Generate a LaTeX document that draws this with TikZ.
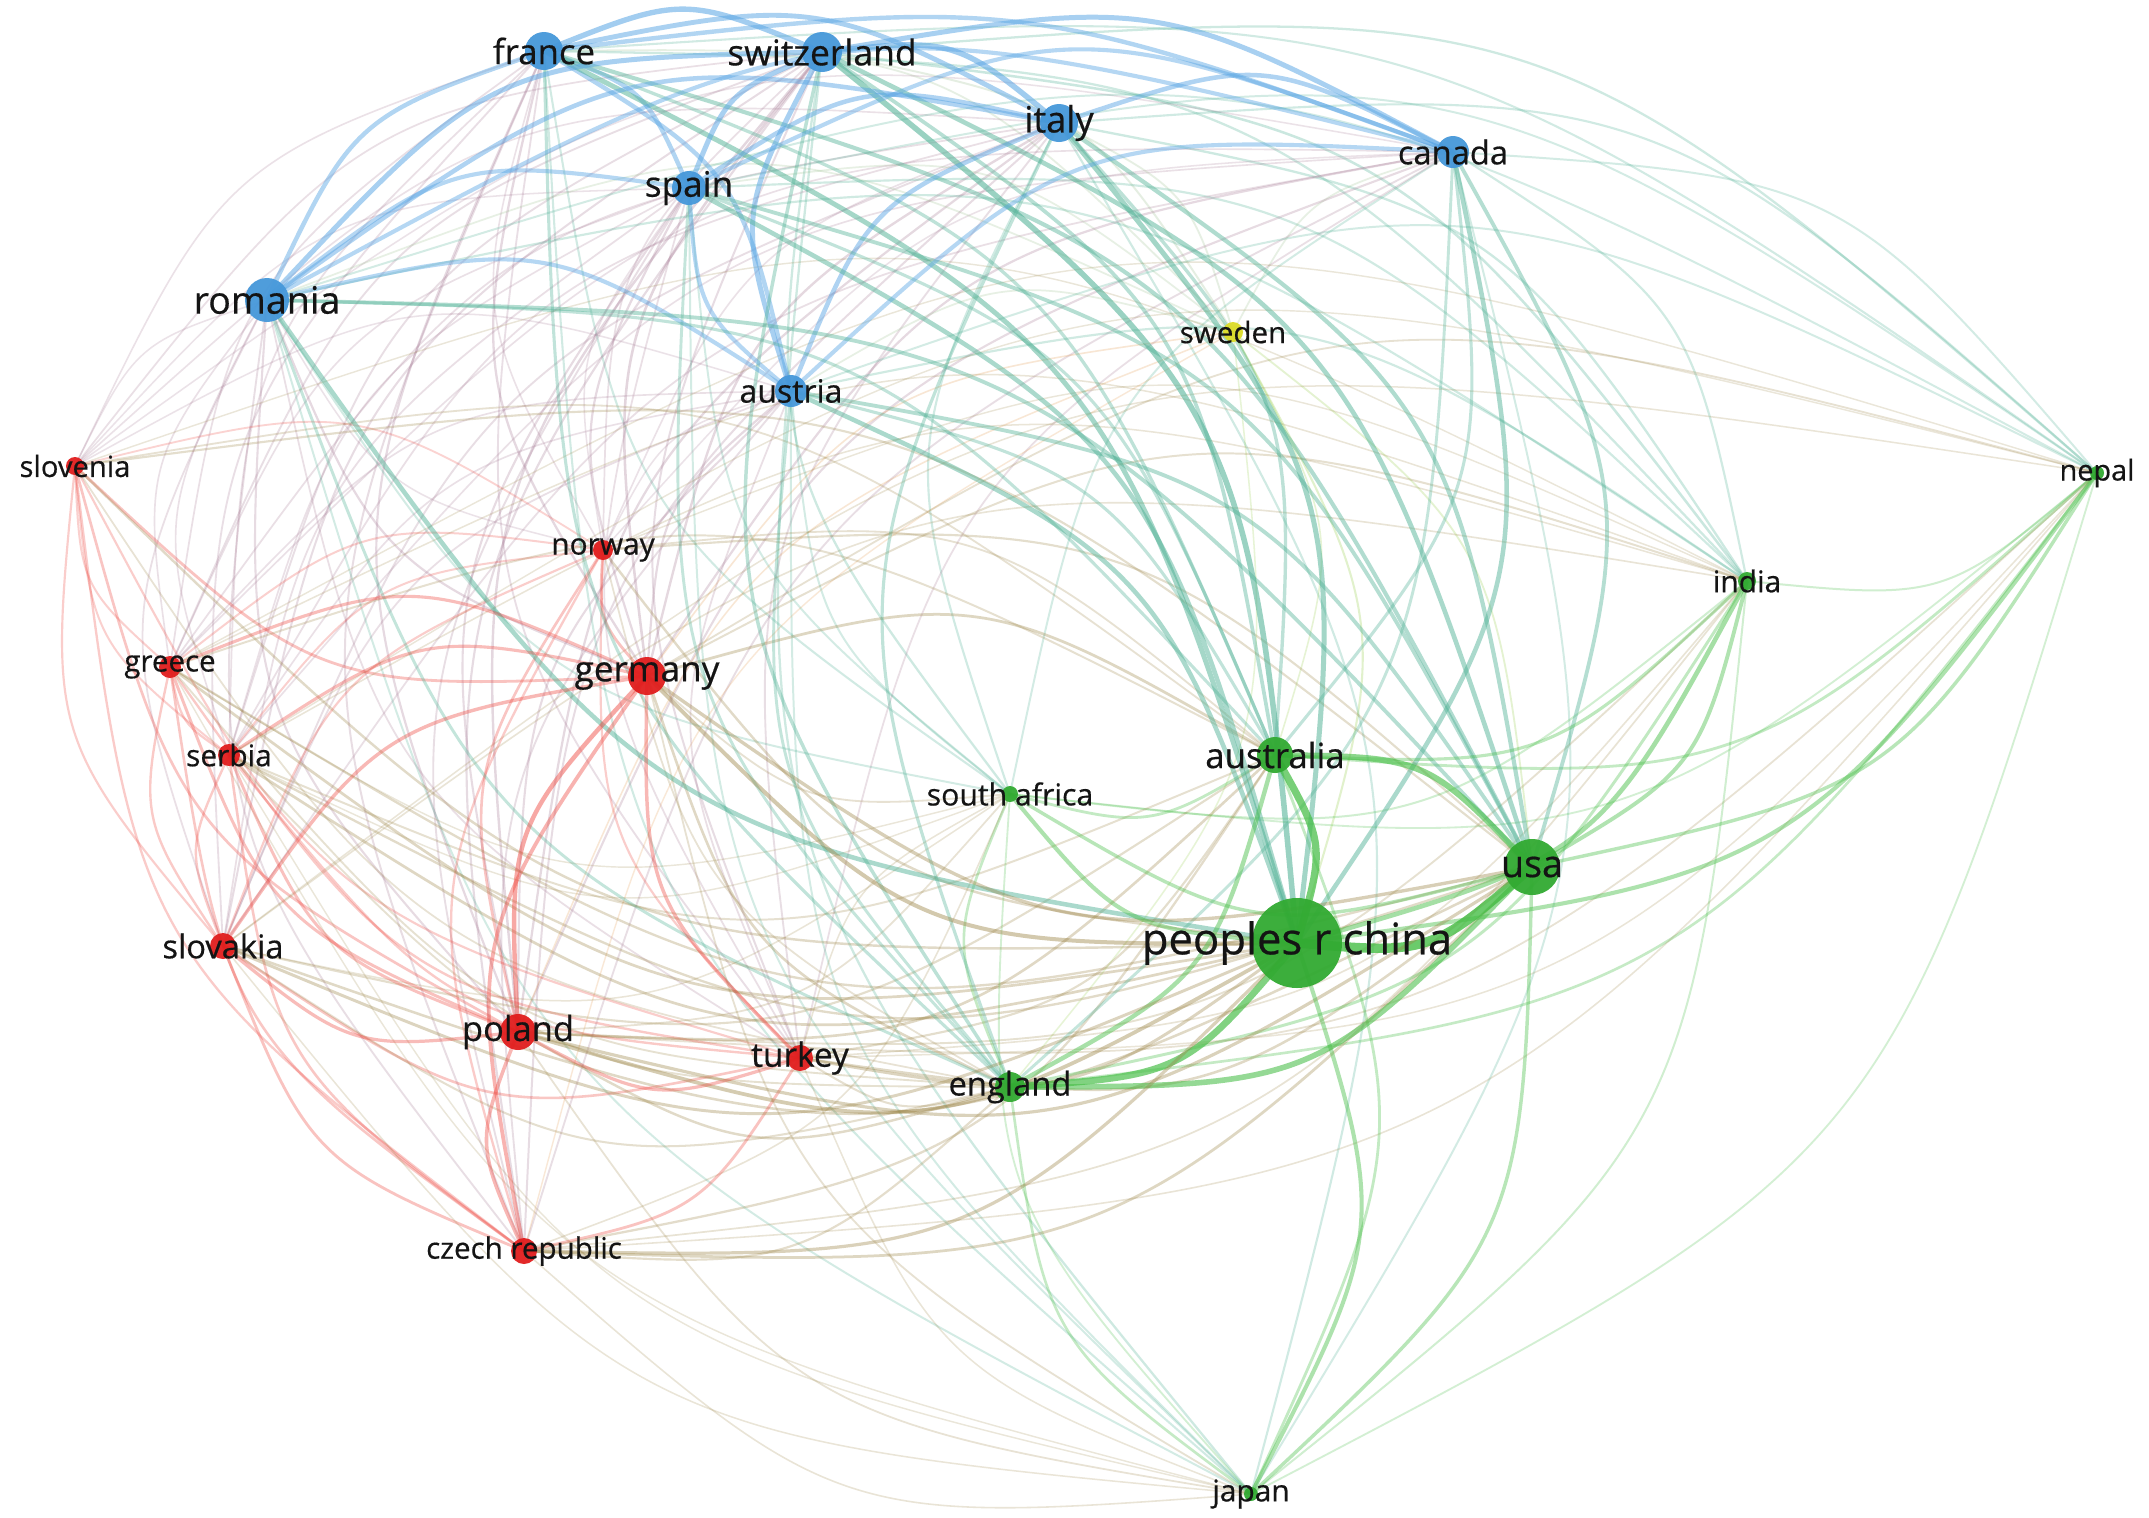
\documentclass[tikz,border=0pt]{standalone}
\usepackage{fontspec}
\setmainfont{Open Sans}
\newfontfamily\lblfont[FakeBold=0.5]{Open Sans}
\definecolor{cBlu}{RGB}{88,165,228}
\definecolor{cRed}{RGB}{238,70,62}
\definecolor{cGrn}{RGB}{70,190,70}
\definecolor{cYel}{RGB}{215,215,50}
\definecolor{nBlu}{RGB}{70,152,218}
\definecolor{nRed}{RGB}{225,30,30}
\definecolor{nGrn}{RGB}{50,170,50}
\definecolor{nYel}{RGB}{220,220,40}
\newcommand\clname[1]{\ifcase#1 cBlu\or cRed\or cGrn\or cYel\fi}
% node data (x, y in units of 100 px; strength; cluster 0=blue 1=red 2=green 3=yellow)
\def\NX{{5.44,8.22,10.59,6.89,14.53,2.67,12.33,7.91,0.75,20.97,6.03,17.47,1.70,6.47,2.29,12.75,10.10,15.32,12.97,2.23,5.18,8.00,10.10,5.24,12.51}}
\def\NY{{0.51,0.52,1.23,1.88,1.52,3.00,3.32,3.91,4.66,4.73,5.50,5.81,6.67,6.76,7.55,7.55,7.94,8.67,9.43,9.46,10.32,10.58,10.87,12.51,14.94}}
\def\NS{{0.6,0.7,0.62,0.55,0.55,0.55,0.3,0.55,0.3,0.3,0.3,0.35,0.35,0.6,0.35,0.6,0.3,0.8,1.0,0.4,0.55,0.4,0.55,0.45,0.3}}
\def\NK{{0,0,0,0,0,0,3,0,1,2,1,2,1,1,1,2,2,2,2,1,1,1,2,1,2}}
\tikzset{
  blob/.style={circle, fill=#1, draw=none, inner sep=0pt, fill opacity=0.95},
  lbl/.style={text=black!92, inner sep=0pt, anchor=center},
}
\begin{document}
\begin{tikzpicture}[x=1cm, y=-1cm]
\useasboundingbox (0,0) rectangle (21.49,15.17);
\fill[white] (0,0) rectangle (21.49,15.17);
\clip (0,0) rectangle (21.49,15.17);
% named centres
\foreach \i in {0,...,24}{
  \pgfmathsetmacro\xx{\NX[\i]}
  \pgfmathsetmacro\yy{\NY[\i]}
  \coordinate (n\i) at (\xx,\yy);
}
% links: two passes, weak links first
\foreach \pass in {0,1}{
\foreach \i in {0,...,23}{
  \pgfmathtruncatemacro\jstart{\i+1}
  \foreach \j in {\jstart,...,24}{
    \pgfmathsetmacro\ax{\NX[\i]}
    \pgfmathsetmacro\ay{\NY[\i]}
    \pgfmathsetmacro\bx{\NX[\j]}
    \pgfmathsetmacro\by{\NY[\j]}
    \pgfmathsetmacro\sa{\NS[\i]}
    \pgfmathsetmacro\sb{\NS[\j]}
    \pgfmathtruncatemacro\ka{\NK[\i]}
    \pgfmathtruncatemacro\kb{\NK[\j]}
    \pgfmathsetmacro\dx{(\bx)-(\ax)}
    \pgfmathsetmacro\dy{(\by)-(\ay)}
    \pgfmathsetmacro\mx{((\ax)+(\bx))/2}
    \pgfmathsetmacro\my{((\ay)+(\by))/2}
    \pgfmathsetmacro\dd{(0-(\dy))*((\mx)-10.5)+(\dx)*((\my)-7.5)}
    \pgfmathsetmacro\sg{(\dd)<0 ? -1 : 1}
    \pgfmathsetmacro\cx{min(22.2,max(-0.6,(\mx)-(\sg)*0.21*(\dy)))}
    \pgfmathsetmacro\cy{min(15.6,max(-0.05,(\my)+(\sg)*0.21*(\dx)))}
    \pgfmathsetmacro\fac{(\ka)==(\kb) ? 1.6 : (((\ka)+(\kb)==2) ? 1.0 : (((\ka)+(\kb)==3) ? 0.78 : 0.6))}
    \pgfmathsetmacro\p{(\sa)*(\sb)*(\fac)}
    \pgfmathsetmacro\w{0.25+1.9*(\p)}
    \pgfmathsetmacro\op{min(0.8,0.15+0.6*(\p))}
    \pgfmathtruncatemacro\keep{((\p)>=0.08) || ((\ka)==(\kb))}
    \pgfmathtruncatemacro\strong{(\p)>=0.3}
    \edef\ca{\clname{\ka}}
    \edef\cb{\clname{\kb}}
    \ifnum\keep=1
      \ifnum\strong=\pass
        \draw[line width=\w pt, draw=\ca!50!\cb, draw opacity=\op] (n\i) .. controls (\cx,\cy) .. (n\j);
      \fi
    \fi
  }
}
}
% circles
\node[blob=nBlu, minimum size=0.38cm] (c0) at (n0) {};
\node[blob=nBlu, minimum size=0.40cm] (c1) at (n1) {};
\node[blob=nBlu, minimum size=0.38cm] (c2) at (n2) {};
\node[blob=nBlu, minimum size=0.34cm] (c3) at (n3) {};
\node[blob=nBlu, minimum size=0.32cm] (c4) at (n4) {};
\node[blob=nBlu, minimum size=0.44cm] (c5) at (n5) {};
\node[blob=nYel, minimum size=0.20cm] (c6) at (n6) {};
\node[blob=nBlu, minimum size=0.32cm] (c7) at (n7) {};
\node[blob=nRed, minimum size=0.18cm] (c8) at (n8) {};
\node[blob=nGrn, minimum size=0.14cm] (c9) at (n9) {};
\node[blob=nRed, minimum size=0.20cm] (c10) at (n10) {};
\node[blob=nGrn, minimum size=0.18cm] (c11) at (n11) {};
\node[blob=nRed, minimum size=0.22cm] (c12) at (n12) {};
\node[blob=nRed, minimum size=0.38cm] (c13) at (n13) {};
\node[blob=nRed, minimum size=0.22cm] (c14) at (n14) {};
\node[blob=nGrn, minimum size=0.36cm] (c15) at (n15) {};
\node[blob=nGrn, minimum size=0.16cm] (c16) at (n16) {};
\node[blob=nGrn, minimum size=0.56cm] (c17) at (n17) {};
\node[blob=nGrn, minimum size=0.90cm] (c18) at (n18) {};
\node[blob=nRed, minimum size=0.26cm] (c19) at (n19) {};
\node[blob=nRed, minimum size=0.36cm] (c20) at (n20) {};
\node[blob=nRed, minimum size=0.26cm] (c21) at (n21) {};
\node[blob=nGrn, minimum size=0.30cm] (c22) at (n22) {};
\node[blob=nRed, minimum size=0.26cm] (c23) at (n23) {};
\node[blob=nGrn, minimum size=0.14cm] (c24) at (n24) {};
% labels
\node[lbl, font=\lblfont\fontsize{9.9}{12}\selectfont] (t0) at (n0) {france};
\node[lbl, font=\lblfont\fontsize{10.1}{12}\selectfont] (t1) at (n1) {switzerland};
\node[lbl, font=\lblfont\fontsize{10.3}{12}\selectfont] (t2) at (n2) {italy};
\node[lbl, font=\lblfont\fontsize{10}{12}\selectfont] (t3) at (n3) {spain};
\node[lbl, font=\lblfont\fontsize{9.3}{12}\selectfont] (t4) at (n4) {canada};
\node[lbl, font=\lblfont\fontsize{10.7}{12}\selectfont] (t5) at (n5) {romania};
\node[lbl, font=\lblfont\fontsize{8.4}{10}\selectfont] (t6) at (n6) {sweden};
\node[lbl, font=\lblfont\fontsize{9.1}{11}\selectfont] (t7) at (n7) {austria};
\node[lbl, font=\lblfont\fontsize{8.3}{10}\selectfont] (t8) at (n8) {slovenia};
\node[lbl, font=\lblfont\fontsize{8.2}{10}\selectfont] (t9) at (n9) {nepal};
\node[lbl, font=\lblfont\fontsize{8.5}{10}\selectfont] (t10) at (n10) {norway};
\node[lbl, font=\lblfont\fontsize{8.5}{10}\selectfont] (t11) at (n11) {india};
\node[lbl, font=\lblfont\fontsize{8.4}{10}\selectfont] (t12) at (n12) {greece};
\node[lbl, font=\lblfont\fontsize{10}{12}\selectfont] (t13) at (n13) {germany};
\node[lbl, font=\lblfont\fontsize{8.5}{10}\selectfont] (t14) at (n14) {serbia};
\node[lbl, font=\lblfont\fontsize{9.9}{12}\selectfont] (t15) at (n15) {australia};
\node[lbl, font=\lblfont\fontsize{8.6}{10}\selectfont] (t16) at (n16) {south africa};
\node[lbl, font=\lblfont\fontsize{10.7}{12}\selectfont] (t17) at (n17) {usa};
\node[lbl, font=\lblfont\fontsize{12.4}{15}\selectfont] (t18) at (n18) {peoples r china};
\node[lbl, font=\lblfont\fontsize{9.3}{11}\selectfont] (t19) at (n19) {slovakia};
\node[lbl, font=\lblfont\fontsize{9.8}{12}\selectfont] (t20) at (n20) {poland};
\node[lbl, font=\lblfont\fontsize{9.5}{11}\selectfont] (t21) at (n21) {turkey};
\node[lbl, font=\lblfont\fontsize{9.3}{11}\selectfont] (t22) at (n22) {england};
\node[lbl, font=\lblfont\fontsize{8.4}{10}\selectfont] (t23) at (n23) {czech republic};
\node[lbl, font=\lblfont\fontsize{8.5}{10}\selectfont] (t24) at (n24) {japan};
\end{tikzpicture}
\end{document}
